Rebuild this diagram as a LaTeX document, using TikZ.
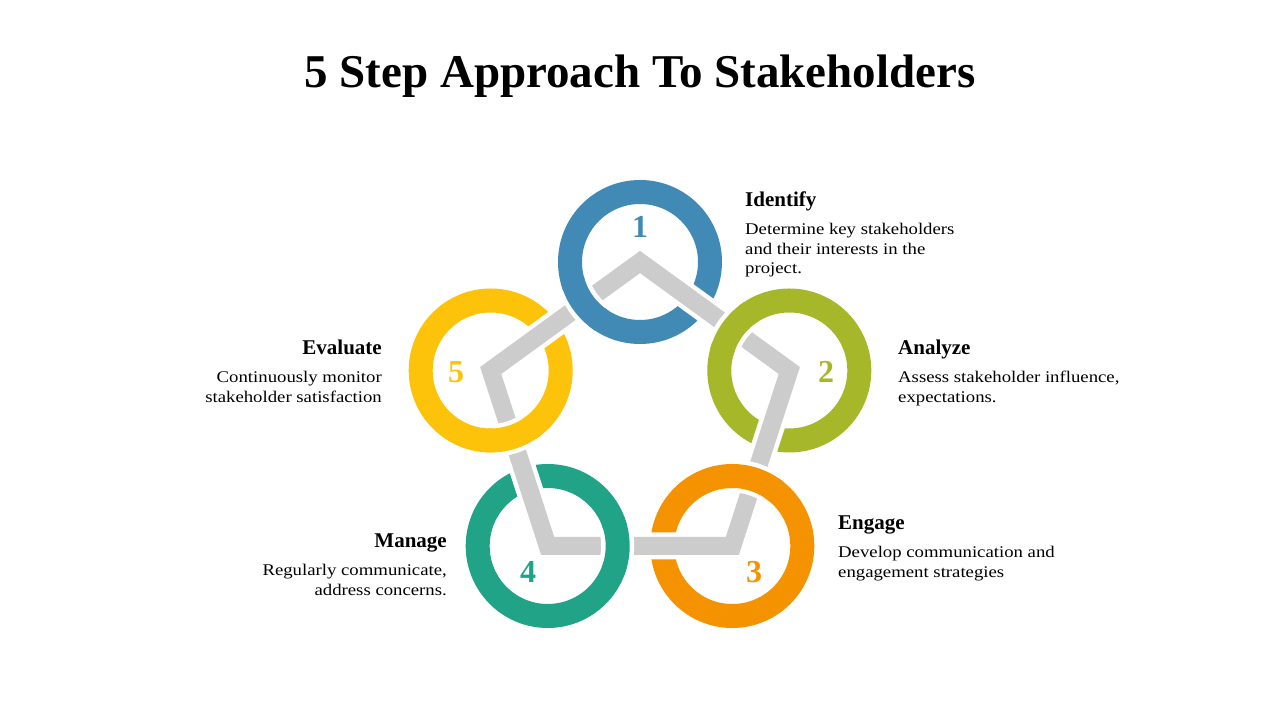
\documentclass[tikz,border=0pt]{standalone}
\usepackage{fontspec}
\setmainfont{Liberation Serif}
\newfontfamily\bodyfont[FakeStretch=1.15]{Liberation Serif}
\usepackage{xcolor}
\usetikzlibrary{positioning}

\definecolor{stepblue}{RGB}{66,138,182}
\definecolor{stepgreen}{RGB}{166,184,42}
\definecolor{steporange}{RGB}{245,146,0}
\definecolor{stepteal}{RGB}{32,163,134}
\definecolor{stepyellow}{RGB}{253,194,10}
\definecolor{linkgray}{RGB}{204,204,204}

\tikzset{
  ring/.style={circle, draw, line width=24pt, minimum size=140pt, inner sep=0pt},
  ringgap/.style={draw=white, line width=33pt},
  ringover/.style={line width=24pt},
  link/.style={draw=linkgray, line width=18pt, line join=miter, preaction={draw=white, line width=27pt}},
  num/.style={font=\fontsize{32}{32}\selectfont\bfseries, inner sep=0pt},
  title/.style={font=\fontsize{47}{50}\selectfont\bfseries, inner sep=0pt},
  head/.style={font=\fontsize{21}{24}\selectfont\bfseries, inner sep=0pt},
  body/.style={font=\bodyfont\fontsize{16.3}{19.5}\selectfont, inner sep=0pt},
}

\begin{document}
\begin{tikzpicture}[x=1pt,y=1pt]
    \useasboundingbox (0,0) rectangle (1280,720);
    \node[title, anchor=base] (title) at (640,632) {5 Step Approach To Stakeholders};

    % rings
    \node[ring, draw=stepblue] (s1) at (640,458) {};
    \node[ring, draw=stepgreen] (s2) at (789.3,349.5) {};
    \node[ring, draw=steporange] (s3) at (732.3,174) {};
    \node[ring, draw=stepteal] (s4) at (547.7,174) {};
    \node[ring, draw=stepyellow] (s5) at (490.7,349.5) {};

    % links over the rings
    \draw[link] (s1.center) -- (s2.center) -- (s3.center) -- (s4.center) -- (s5.center) -- cycle;

    % rings back over the links where they come in
    \foreach \s/\a/\c in {s2/144/stepgreen, s3/72/steporange, s4/0/stepteal, s5/288/stepyellow, s1/216/stepblue} {
        \draw[ringgap] ([shift={(\a-16:70)}]\s.center) arc[start angle=\a-16, end angle=\a+16, radius=70];
        \draw[ringover, draw=\c] ([shift={(\a-21:70)}]\s.center) arc[start angle=\a-21, end angle=\a+21, radius=70];
    }

    \node[num, text=stepblue] (n1) at (640,493) {1};
    \node[num, text=stepgreen] (n2) at (826,348) {2};
    \node[num, text=steporange] (n3) at (754,148) {3};
    \node[num, text=stepteal] (n4) at (528,148) {4};
    \node[num, text=stepyellow] (n5) at (456,348) {5};

    % texts
    \node[head, anchor=base west] (identify) at (745,513) {Identify};
    \node[body, align=left, below=16pt of identify.base west, anchor=north west] (identifytext) {Determine key stakeholders\\and their interests in the\\project.};
    \node[head, anchor=base west] (analyze) at (898,365) {Analyze};
    \node[body, align=left, below=16pt of analyze.base west, anchor=north west] (analyzetext) {Assess stakeholder influence,\\expectations.};
    \node[head, anchor=base west] (engage) at (838,190) {Engage};
    \node[body, align=left, below=16pt of engage.base west, anchor=north west] (engagetext) {Develop communication and\\engagement strategies};
    \node[head, anchor=base east] (manage) at (447,172) {Manage};
    \node[body, align=right, below=16pt of manage.base east, anchor=north east] (managetext) {Regularly communicate,\\address concerns.};
    \node[head, anchor=base east] (evaluate) at (382,365) {Evaluate};
    \node[body, align=right, below=16pt of evaluate.base east, anchor=north east] (evaluatetext) {Continuously monitor\\stakeholder satisfaction};
\end{tikzpicture}
\end{document}
